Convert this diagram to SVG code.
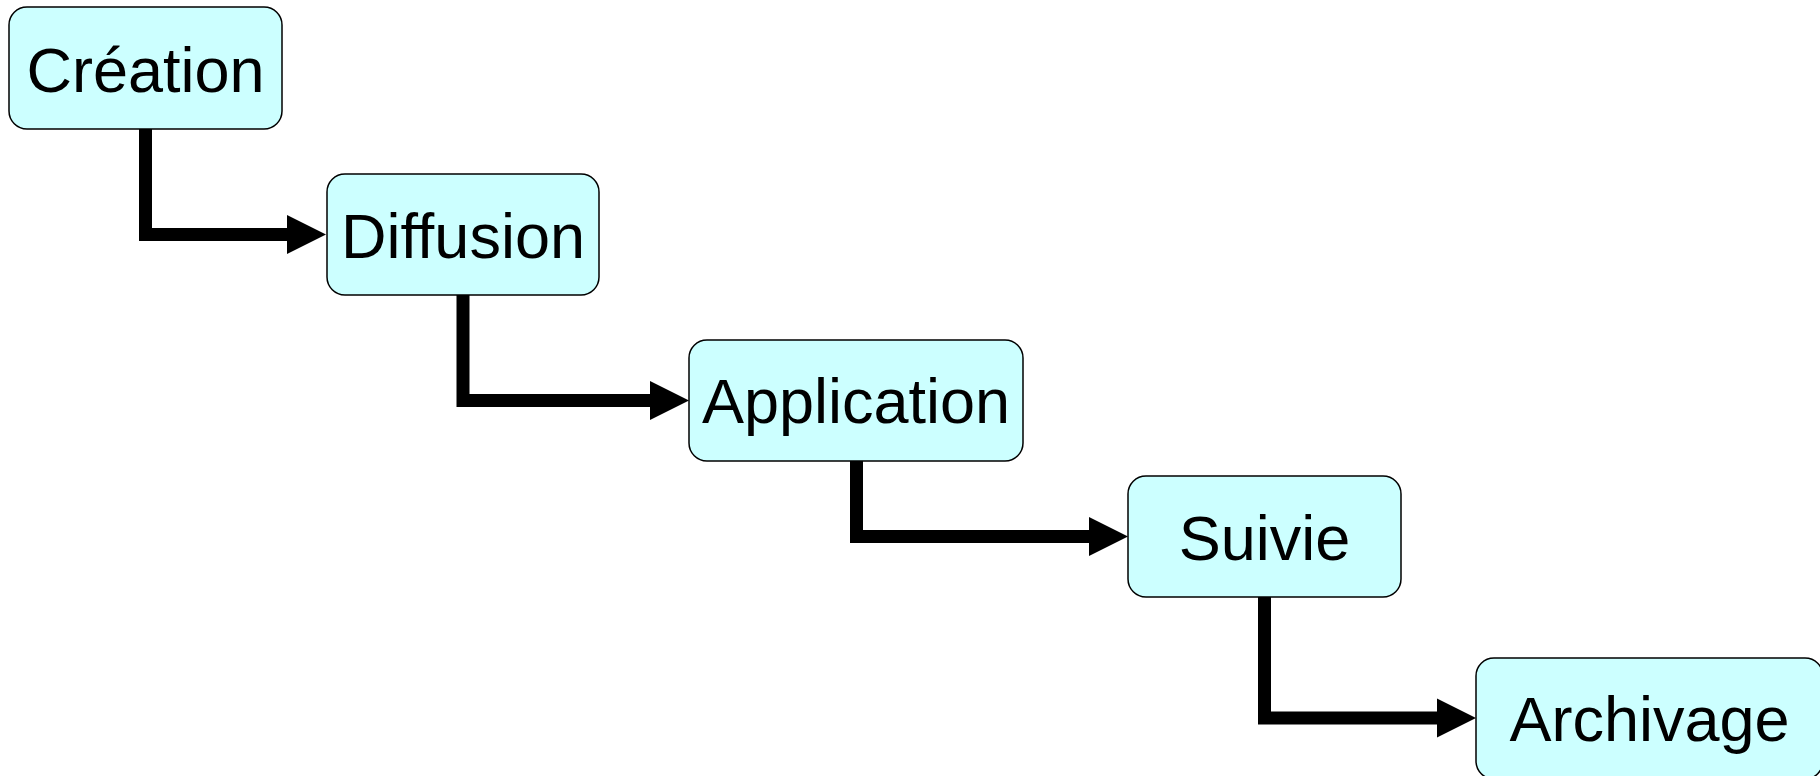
<svg xmlns="http://www.w3.org/2000/svg" width="1820" height="776" viewBox="0 0 1820 776">
  <style>
    .box { fill: #CCFFFF; stroke: #000000; stroke-width: 1.5; }
    .label { font-family: "Liberation Sans", Arial, sans-serif; font-size: 63px; fill: #000000; text-anchor: middle; }
    .flow { fill: none; stroke: #000000; stroke-width: 13; stroke-linejoin: miter; stroke-linecap: butt; marker-end: url(#head); }
  </style>
  <defs>
    <marker id="head" markerUnits="userSpaceOnUse" markerWidth="40" markerHeight="40" viewBox="0 0 40 40" refX="0" refY="20" orient="auto">
      <path d="M0,0.5 L39,20 L0,39.5 Z" fill="#000000"/>
    </marker>
  </defs>
  <rect width="1820" height="776" fill="#FFFFFF"/>

  <g id="connectors">
    <path class="flow" d="M145.5,129 V234.5 H287"/>
    <path class="flow" d="M463,295 V400.5 H650"/>
    <path class="flow" d="M856.5,461 V536.5 H1089"/>
    <path class="flow" d="M1264.5,597 V718 H1437"/>
  </g>

  <g id="creation">
    <rect class="box" x="9" y="7" width="273" height="122" rx="18" ry="18"/>
    <text class="label" x="145.5" y="91.5">Création</text>
  </g>
  <g id="diffusion">
    <rect class="box" x="327" y="174" width="272" height="121" rx="18" ry="18"/>
    <text class="label" x="463" y="258">Diffusion</text>
  </g>
  <g id="application">
    <rect class="box" x="689" y="340" width="334" height="121" rx="18" ry="18"/>
    <text class="label" x="856" y="423">Application</text>
  </g>
  <g id="suivie">
    <rect class="box" x="1128" y="476" width="273" height="121" rx="18" ry="18"/>
    <text class="label" x="1264.5" y="560">Suivie</text>
  </g>
  <g id="archivage">
    <rect class="box" x="1476" y="658" width="347" height="121" rx="18" ry="18"/>
    <text class="label" x="1649.5" y="741">Archivage</text>
  </g>
</svg>
